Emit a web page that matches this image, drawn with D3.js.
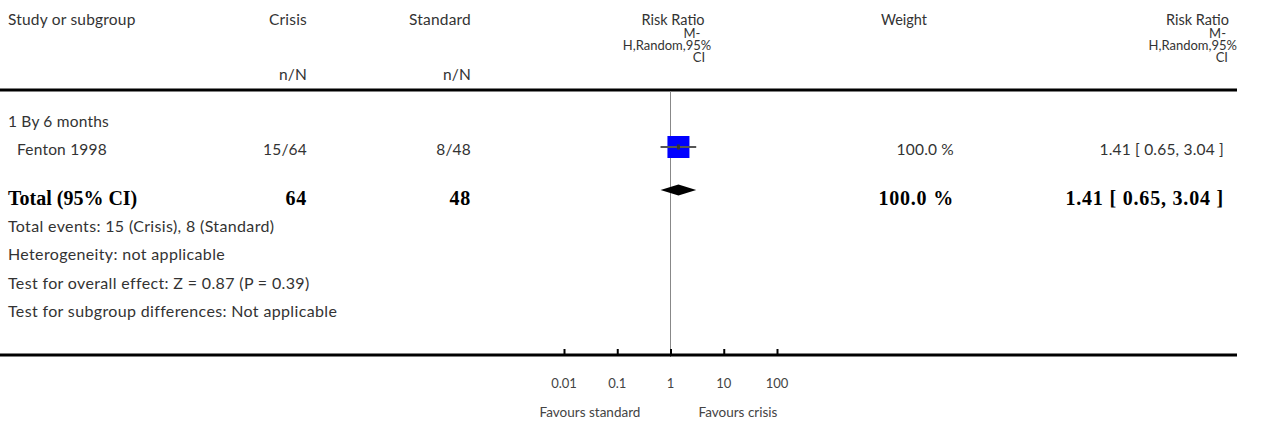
<!DOCTYPE html>
<html>
<head>
<meta charset="utf-8">
<script src="https://cdn.jsdelivr.net/npm/d3@7"></script>
<style>
  html, body { margin: 0; padding: 0; background: #fff; }
  svg { display: block; }
  .t { font-family: Lato, "Open Sans", sans-serif; font-size: 15.5px; letter-spacing: 0.2px; fill: #333; }
  .f { font-family: Lato, "Open Sans", sans-serif; font-size: 16px; letter-spacing: 0.35px; fill: #333; }
  .h { font-family: Lato, "Open Sans", sans-serif; font-size: 14.5px; fill: #333; }
  .w { font-family: Lato, "Open Sans", sans-serif; font-size: 13px; fill: #333; }
  .s { font-family: Lato, "Open Sans", sans-serif; font-size: 13px; fill: #444; }
  .s2 { font-family: Lato, "Open Sans", sans-serif; font-size: 13.5px; fill: #444; }
  .b { font-family: "Liberation Serif", "Times New Roman", serif; font-size: 20px; font-weight: bold; fill: #000; }
  .bn { font-family: "Liberation Serif", "Times New Roman", serif; font-size: 20px; font-weight: bold; letter-spacing: 0.8px; fill: #000; }
</style>
</head>
<body>
<svg id="chart" width="1264" height="423"></svg>
<script>
// ---- data ----
const subgroups = ["1 By 6 months"];
const studies = ["Fenton 1998"];
const crisisEvents = [15];
const crisisTotals = [64];
const standardEvents = [8];
const standardTotals = [48];
const studyRR = [1.41];
const studyLo = [0.65];
const studyHi = [3.04];
const studyWeight = [100.0];
const totalCrisis = 64;
const totalStandard = 48;
const totalRR = 1.41;
const totalLo = 0.65;
const totalHi = 3.04;
const totalWeight = 100.0;
const tickValues = [0.01, 0.1, 1, 10, 100];
const tickLabels = ["0.01", "0.1", "1", "10", "100"];
const footnotes = [
  "Total events: 15 (Crisis), 8 (Standard)",
  "Heterogeneity: not applicable",
  "Test for overall effect: Z = 0.87 (P = 0.39)",
  "Test for subgroup differences: Not applicable"
];
const favourLabels = ["Favours standard", "Favours crisis"];

// ---- drawing ----
const svg = d3.select("#chart");
const x = d3.scaleLog().domain([0.01, 100]).range([564, 777]);
const fmt2 = d3.format(".2f");
const ciText = (r, l, h) => `${fmt2(r)} [ ${fmt2(l)}, ${fmt2(h)} ]`;

function txt(s, xx, yy, cls, anchor) {
  return svg.append("text").attr("class", cls).attr("x", xx).attr("y", yy)
    .attr("text-anchor", anchor || "start").text(s);
}

// header
txt("Study or subgroup", 8, 25, "t");
txt("Crisis", 307, 25, "t", "end");
txt("Standard", 471, 25, "t", "end");
txt("n/N", 307, 80, "t", "end");
txt("n/N", 471, 80, "t", "end");
txt("Risk Ratio", 673, 25, "h", "middle");
txt("M-", 692, 37.5, "w", "middle");
txt("H,Random,95%", 667, 49.5, "w", "middle");
txt("CI", 699, 62, "w", "middle");
txt("Weight", 881, 25, "h");
txt("Risk Ratio", 1229, 25, "h", "end");
txt("M-", 1226, 37.5, "w", "end");
txt("H,Random,95%", 1237, 49.5, "w", "end");
txt("CI", 1228, 62, "w", "end");

// rules
svg.append("line").attr("x1", 0).attr("x2", 1237).attr("y1", 90).attr("y2", 90)
  .attr("stroke", "#000").attr("stroke-width", 3);

// vertical line of no effect
svg.append("line").attr("x1", x(1)).attr("x2", x(1)).attr("y1", 91).attr("y2", 357)
  .attr("stroke", "#888").attr("stroke-width", 1);

// subgroup and studies
txt(subgroups[0], 8, 127, "t");
studies.forEach((s, i) => {
  const yy = 147;
  txt(s, 17, yy + 8, "t");
  txt(`${crisisEvents[i]}/${crisisTotals[i]}`, 307, yy + 8, "t", "end");
  txt(`${standardEvents[i]}/${standardTotals[i]}`, 471, yy + 8, "t", "end");
  txt(`${d3.format(".1f")(studyWeight[i])} %`, 954, yy + 8, "t", "end");
  txt(ciText(studyRR[i], studyLo[i], studyHi[i]), 1224, yy + 8, "t", "end");
  const sz = 22;
  svg.append("rect").attr("x", x(studyRR[i]) - sz / 2).attr("y", yy - sz / 2)
    .attr("width", sz).attr("height", sz).attr("fill", "#0000ff");
  svg.append("line").attr("x1", x(studyLo[i])).attr("x2", x(studyHi[i]))
    .attr("y1", yy).attr("y2", yy).attr("stroke", "#555").attr("stroke-width", 2);
  svg.append("rect").attr("x", x(studyRR[i]) - 1.5).attr("y", yy - 2.5)
    .attr("width", 3).attr("height", 5).attr("fill", "#333");
});

// total
const ty = 190;
txt("Total (95% CI)", 8, 205, "b");
txt(String(totalCrisis), 307, 205, "bn", "end");
txt(String(totalStandard), 471, 205, "bn", "end");
txt(`${d3.format(".1f")(totalWeight)} %`, 954, 205, "bn", "end");
txt(ciText(totalRR, totalLo, totalHi), 1224, 205, "bn", "end");
svg.append("polygon")
  .attr("points", [[x(totalLo), ty], [x(totalRR), ty - 5.5], [x(totalHi), ty], [x(totalRR), ty + 5.5]].map(p => p.join(",")).join(" "))
  .attr("fill", "#000");

// footnotes
footnotes.forEach((f, i) => txt(f, 8, 232 + i * 28.3, "f"));

// axis
svg.append("line").attr("x1", 0).attr("x2", 1237).attr("y1", 355).attr("y2", 355)
  .attr("stroke", "#000").attr("stroke-width", 3);
const axis = d3.axisTop(x).tickValues(tickValues).tickSize(6).tickFormat(() => "");
const ag = svg.append("g").attr("transform", "translate(0,355)").call(axis);
ag.select(".domain").remove();
ag.selectAll(".tick line").attr("stroke", "#000").attr("stroke-width", 2);
tickValues.forEach((v, i) => txt(tickLabels[i], x(v), 388, "s", "middle"));
txt(favourLabels[0], 590, 417, "s2", "middle");
txt(favourLabels[1], 738, 417, "s2", "middle");
</script>
</body>
</html>
